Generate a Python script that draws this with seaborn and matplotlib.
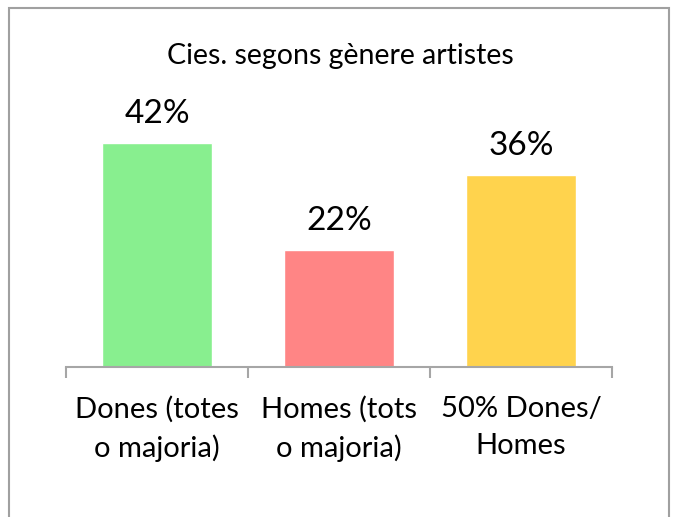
import pandas as pd
import seaborn as sns
import matplotlib.pyplot as plt
from matplotlib.patches import Rectangle

categories = ['Dones (totes\no majoria)', 'Homes (tots\no majoria)', '50% Dones/\nHomes']
values = [42, 22, 36]
colors = ['#88EF8F', '#FF8585', '#FFD34D']

df = pd.DataFrame({'cat': categories, 'pct': values})

sns.set_style('white')
plt.rcParams['font.family'] = ['Lato', 'DejaVu Sans']
plt.rcParams['text.color'] = 'black'
plt.rcParams['xtick.color'] = 'black'

fig = plt.figure(figsize=(6.74, 5.17), dpi=100)
ax = fig.add_axes([66 / 674, 1 - 367 / 517, 546 / 674, 266.5 / 517])

sns.barplot(data=df, x='cat', y='pct', hue='cat', palette=colors,
            width=0.6, legend=False, ax=ax, saturation=1)

for c in ax.containers:
    ax.bar_label(c, labels=[f'{v:.0f}%' for v in c.datavalues],
                 padding=10, fontsize=24, color='black')

ax.set_xlim(-0.5, 2.5)
ax.set_ylim(0, 50)
ax.set_xlabel('')
ax.set_ylabel('')
ax.set_yticks([])
for s in ['top', 'left', 'right']:
    ax.spines[s].set_visible(False)
ax.spines['bottom'].set_color('#A6A6A6')
ax.spines['bottom'].set_linewidth(1.5)

# boundary ticks between categories, labels centred under bars
ax.set_xticks([-0.5, 0.5, 1.5, 2.5])
ax.set_xticklabels([])
ax.tick_params(axis='x', which='major', direction='out', length=8,
               width=1.5, color='#A6A6A6', bottom=True)
ax.set_xticks([0, 1, 2], minor=True)
ax.set_xticklabels(categories, minor=True, fontsize=21, linespacing=1.5,
                   color='black')
ax.tick_params(axis='x', which='minor', length=0, pad=21)

fig.text(340 / 674, 1 - 56 / 517, 'Cies. segons gènere artistes',
         ha='center', va='center', fontsize=20.5, color='black')

fig.patches.append(Rectangle((9 / 674, -0.05), 660 / 674, 1.05 - 8 / 517,
                             transform=fig.transFigure, fill=False,
                             edgecolor='#A0A0A0', linewidth=1.5))

fig.savefig('out.png', dpi=100)
